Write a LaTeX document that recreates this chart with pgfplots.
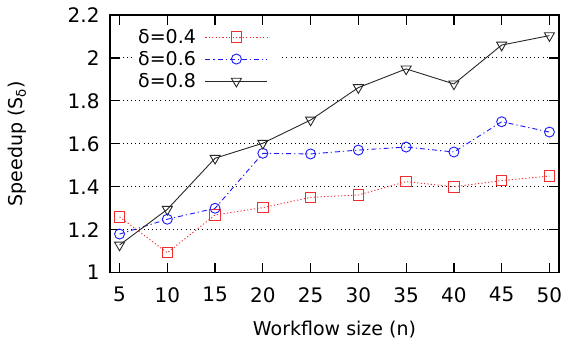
\documentclass[border=0pt]{standalone}
\usepackage{pgfplots}
\pgfplotsset{compat=1.18}
\usepackage{fontspec}
\setmainfont{DejaVu Sans}
\definecolor{cRed}{RGB}{240,45,45}
\definecolor{cBlue}{RGB}{25,25,250}
\definecolor{cBlack}{RGB}{40,40,40}
\newcommand{\fs}{\fontsize{19bp}{22bp}\selectfont}
\newcommand{\ft}{\fontsize{20bp}{23bp}\selectfont}
\begin{document}
\begin{tikzpicture}
\begin{axis}[
  scale only axis,
  width=449bp, height=257.7bp,
  xmin=4, xmax=51, ymin=1, ymax=2.2,
  xtick={5,10,...,50},
  ytick={1,1.2,1.4,1.6,1.8,2,2.2},
  /pgf/number format/assume math mode=true,
  tick label style={font=\ft},
  label style={font=\fs},
  xticklabel style={yshift=-11bp},
  yticklabel style={xshift=-7bp},
  xlabel={Workflow size (n)},
  ylabel={Speedup (S\textsubscript{δ})},
  xlabel style={yshift=-12bp},
  ylabel style={yshift=34bp},
  major tick length=10bp,
  tick style={line width=1.2bp, black},
  axis line style={line width=1.5bp},
  ymajorgrids,
  major grid style={black, line width=0.9bp, dash pattern=on 1bp off 3.2bp},
  legend style={font=\fs, at={(rel axis cs:0,1)}, anchor=north west,
    xshift=24bp, yshift=-10bp, draw=none, fill=white,
    legend cell align=right, row sep=2.5bp, inner sep=2bp,
    /tikz/every odd column/.append style={column sep=7bp}},
  legend plot pos=right,
  legend image code/.code={\draw[mark repeat=2,mark phase=2,#1] plot coordinates {(0bp,0bp) (31bp,0bp) (62bp,0bp)}; \path (74bp,0bp);},
]
\addplot[cRed, line width=0.9bp, dash pattern=on 1.2bp off 2.2bp, mark=square, mark size=5.2bp, mark options={solid, line width=0.9bp}]
  coordinates {(5,1.260) (10,1.093) (15,1.269) (20,1.303) (25,1.351) (30,1.362) (35,1.424) (40,1.400) (45,1.429) (50,1.450)};
\addlegendentry{δ=0.4}
\addplot[cBlue, line width=0.9bp, dash pattern=on 5bp off 3bp on 1.2bp off 3bp, mark=o, mark size=5bp, mark options={solid, line width=0.9bp}]
  coordinates {(5,1.180) (10,1.249) (15,1.300) (20,1.556) (25,1.553) (30,1.571) (35,1.585) (40,1.562) (45,1.703) (50,1.655)};
\addlegendentry{δ=0.6}
\addplot[cBlack, line width=0.9bp, mark=triangle, mark size=5.8bp, mark options={solid, rotate=180, line width=0.9bp}]
  coordinates {(5,1.129) (10,1.295) (15,1.533) (20,1.603) (25,1.711) (30,1.862) (35,1.949) (40,1.879) (45,2.060) (50,2.104)};
\addlegendentry{δ=0.8}
\coordinate (ll) at (rel axis cs:0,0);
\coordinate (ur) at (rel axis cs:1,1);
\end{axis}
\pgfresetboundingbox
\path[use as bounding box] ([shift={(-110bp,-70bp)}]ll) rectangle ([shift={(8bp,15bp)}]ur);
\end{tikzpicture}
\end{document}
